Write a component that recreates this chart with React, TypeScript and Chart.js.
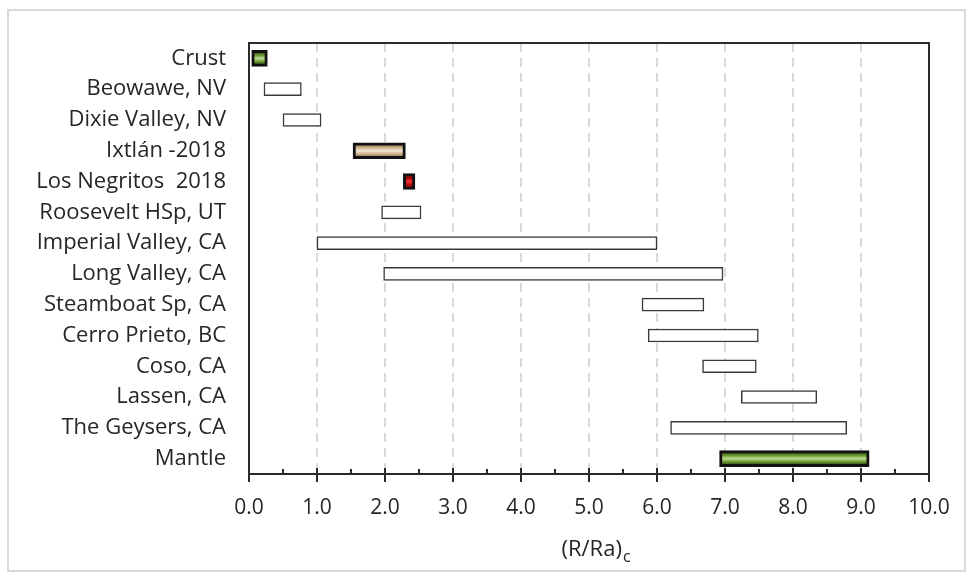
import React, { useEffect, useRef } from "react";
import { Chart, registerables } from "chart.js";

Chart.register(...registerables);

const categories = [
  "Crust",
  "Beowawe, NV",
  "Dixie Valley, NV",
  "Ixtlán -2018",
  "Los Negritos  2018",
  "Roosevelt HSp, UT",
  "Imperial Valley, CA",
  "Long Valley, CA",
  "Steamboat Sp, CA",
  "Cerro Prieto, BC",
  "Coso, CA",
  "Lassen, CA",
  "The Geysers, CA",
  "Mantle",
];
const lowValues = [0.04, 0.22, 0.5, 1.53, 2.27, 1.95, 1.0, 1.98, 5.78, 5.87, 6.67, 7.24, 6.2, 6.92];
const highValues = [0.27, 0.77, 1.06, 2.3, 2.44, 2.53, 6.0, 6.97, 6.69, 7.49, 7.46, 8.35, 8.79, 9.12];
const barKinds = ["green", "open", "open", "tan", "red", "open", "open", "open", "open", "open", "open", "open", "open", "green"];
const xTickValues = [0, 1, 2, 3, 4, 5, 6, 7, 8, 9, 10];
const axisTitleMain = "(R/Ra)";
const axisTitleSub = "c";

const gradientStops: Record<string, string[]> = {
  green: ["#365313", "#6f9c33", "#bcdc94", "#6f9c33", "#365313"],
  tan: ["#9c7f58", "#cdb28c", "#f3e7d4", "#cdb28c", "#9c7f58"],
  red: ["#7e0000", "#bb0a0a", "#f03232", "#bb0a0a", "#7e0000"],
};

const FONT = "'Open Sans', Lato, sans-serif";
const TEXT_COLOR = "#262626";

const framePlugin = {
  id: "frame",
  beforeDatasetsDraw(chart: any) {
    const { ctx, chartArea: a, scales } = chart;
    const x = scales.x;
    ctx.save();
    ctx.strokeStyle = "#2b2b2b";
    ctx.lineWidth = 2;
    ctx.strokeRect(a.left, a.top, a.right - a.left, a.bottom - a.top);
    ctx.beginPath();
    xTickValues.forEach((v) => {
      const px = Math.round(x.getPixelForValue(v));
      ctx.moveTo(px, a.bottom - 6);
      ctx.lineTo(px, a.bottom + 8);
      if (v < 10) {
        const pm = Math.round(x.getPixelForValue(v + 0.5));
        ctx.moveTo(pm, a.bottom - 5);
        ctx.lineTo(pm, a.bottom);
      }
    });
    ctx.stroke();
    ctx.restore();
  },
  afterDraw(chart: any) {
    const { ctx, chartArea: a } = chart;
    ctx.save();
    ctx.fillStyle = TEXT_COLOR;
    ctx.textBaseline = "alphabetic";
    ctx.textAlign = "left";
    ctx.font = `22px ${FONT}`;
    const wMain = ctx.measureText(axisTitleMain).width;
    ctx.font = `16px ${FONT}`;
    const wSub = ctx.measureText(axisTitleSub).width;
    const cx = (a.left + a.right) / 2 + 7;
    const x0 = cx - (wMain + wSub + 1) / 2;
    ctx.font = `22px ${FONT}`;
    ctx.fillText(axisTitleMain, x0, a.bottom + 82);
    ctx.font = `16px ${FONT}`;
    ctx.fillText(axisTitleSub, x0 + wMain + 1, a.bottom + 88);
    ctx.restore();
  },
};

function fillFor(ctx: any) {
  const kind = barKinds[ctx.dataIndex] === "open" ? "green" : barKinds[ctx.dataIndex];
  const stops = gradientStops[kind] || gradientStops.green;
  const chart = ctx.chart;
  const y = chart && chart.scales && chart.scales.y;
  if (!y || ctx.type !== "data") return stops[1];
  const yc = y.getPixelForValue(ctx.dataIndex);
  if (!Number.isFinite(yc)) return stops[1];
  const g = chart.ctx.createLinearGradient(0, yc - 6, 0, yc + 6);
  stops.forEach((c, i) => g.addColorStop(i / (stops.length - 1), c));
  return g;
}

export default function App() {
  const canvasRef = useRef<HTMLCanvasElement | null>(null);

  useEffect(() => {
    if (!canvasRef.current) return;
    const ranges = categories.map((_, i) => [lowValues[i], highValues[i]]);
    const filledData = ranges.map((r, i) => (barKinds[i] !== "open" ? r : null));
    const openData = ranges.map((r, i) => (barKinds[i] === "open" ? r : null));

    const chart = new Chart(canvasRef.current, {
      type: "bar",
      data: {
        labels: categories,
        datasets: [
          {
            label: "open",
            data: openData as any,
            backgroundColor: "#ffffff",
            borderColor: "#3a3a3a",
            borderWidth: 1.5,
            borderSkipped: false,
            barThickness: 13,
            grouped: false,
          } as any,
          {
            label: "filled",
            data: filledData as any,
            backgroundColor: fillFor,
            borderColor: "#111111",
            borderWidth: 3,
            borderSkipped: false,
            barThickness: 16,
            grouped: false,
          } as any,
        ],
      },
      options: {
        indexAxis: "y",
        animation: false,
        responsive: false,
        layout: { padding: { left: 0, top: 43, right: 43, bottom: 0 } },
        plugins: {
          legend: { display: false },
          tooltip: { enabled: false },
          title: { display: false },
        },
        scales: {
          x: {
            type: "linear",
            min: 0,
            max: 10,
            afterFit: (scale: any) => {
              scale.height = 105;
            },
            afterBuildTicks: (scale: any) => {
              scale.ticks = xTickValues.map((v) => ({ value: v }));
            },
            ticks: {
              padding: 21,
              color: TEXT_COLOR,
              font: { family: FONT, size: 21 },
              callback: (v: any) => Number(v).toFixed(1),
            },
            grid: {
              display: true,
              color: "#d9d9d9",
              lineWidth: 2,
              drawTicks: false,
            },
            border: { display: false, dash: [9, 6] },
          },
          y: {
            type: "category",
            offset: true,
            afterFit: (scale: any) => {
              scale.width = 249;
            },
            ticks: {
              padding: 23,
              color: TEXT_COLOR,
              font: { family: FONT, size: 22 },
              autoSkip: false,
            },
            grid: { display: false, drawTicks: false },
            border: { display: false },
          },
        },
      } as any,
      plugins: [framePlugin],
    });
    return () => chart.destroy();
  }, []);

  return (
    <div style={{ position: "fixed", left: 0, top: 0, width: 972, height: 579, background: "#ffffff" }}>
      <div
        style={{
          position: "absolute",
          left: 7,
          top: 9,
          width: 959,
          height: 563,
          border: "2px solid #d9d9d9",
          boxSizing: "border-box",
        }}
      />
      <canvas ref={canvasRef} width={972} height={579} style={{ position: "absolute", left: 0, top: 0 }} />
    </div>
  );
}
